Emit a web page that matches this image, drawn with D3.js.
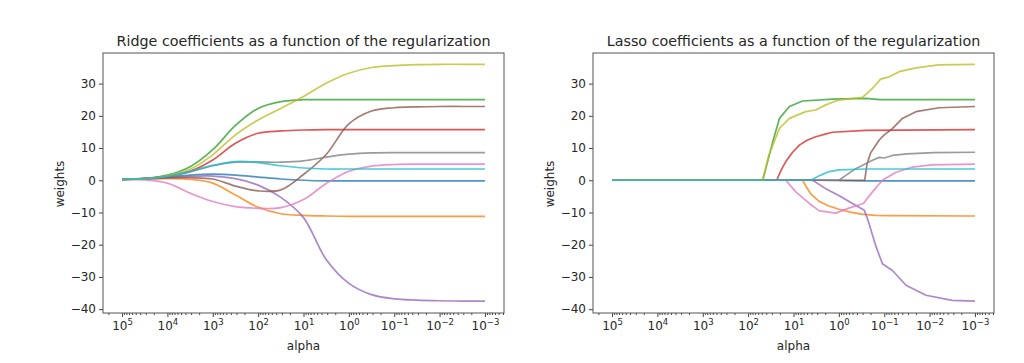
<!DOCTYPE html>
<html>
<head>
<meta charset="utf-8">
<script src="https://cdn.jsdelivr.net/npm/d3@7"></script>
<style>
  body { margin: 0; background: #fff; }
  text { font-family: "DejaVu Sans", sans-serif; fill: #262626; }
</style>
</head>
<body>
<svg id="chart" width="1024" height="363"></svg>
<script>
// ---- data (log10 of alpha, coefficient values) ----
const alphaExps = [5, 4.5, 4, 3.5, 3, 2.5, 2, 1.5, 1, 0.5, 0, -0.5, -1, -1.5, -2, -2.5, -3];

const ridgeBlue   = [0.3, 0.5, 1.0, 1.6, 1.9, 1.6, 1.0, 0.4, 0.0, -0.2, -0.2, -0.2, -0.2, -0.2, -0.2, -0.2, -0.2];
const ridgeOrange = [0.3, 0.4, 0.5, 0.3, -0.9, -4.6, -8.4, -10.4, -10.9, -11.1, -11.2, -11.2, -11.2, -11.2, -11.2, -11.2, -11.2];
const ridgeGreen  = [0.3, 0.6, 1.6, 4.2, 9.5, 17.0, 22.3, 24.4, 25.0, 25.0, 25.0, 25.0, 25.0, 25.0, 25.0, 25.0, 25.0];
const ridgeRed    = [0.3, 0.5, 1.3, 2.8, 6.3, 11.5, 14.6, 15.3, 15.6, 15.7, 15.7, 15.7, 15.7, 15.7, 15.7, 15.7, 15.7];
const ridgePurple = [0.3, 0.4, 0.7, 1.2, 1.3, 0.5, -1.5, -5.3, -11.6, -24.6, -32.0, -35.5, -36.8, -37.2, -37.4, -37.5, -37.5];
const ridgeBrown  = [0.3, 0.5, 0.8, 0.8, 0.4, -1.8, -3.3, -3.0, 1.8, 8.0, 17.5, 21.5, 22.5, 22.8, 22.9, 22.9, 22.9];
const ridgePink   = [0.3, 0.1, -0.9, -4.0, -6.6, -8.2, -8.7, -8.5, -6.0, -1.0, 2.8, 4.4, 4.9, 5.0, 5.0, 5.0, 5.0];
const ridgeGray   = [0.3, 0.5, 1.2, 2.6, 4.5, 5.6, 5.7, 5.6, 6.0, 7.2, 8.1, 8.5, 8.6, 8.6, 8.6, 8.6, 8.6];
const ridgeOlive  = [0.3, 0.5, 1.4, 3.4, 7.9, 14.1, 18.7, 22.3, 26.0, 30.1, 33.2, 35.0, 35.6, 35.9, 36.0, 36.0, 36.0];
const ridgeCyan   = [0.3, 0.5, 1.2, 2.8, 4.6, 5.8, 5.5, 4.5, 3.8, 3.5, 3.5, 3.5, 3.5, 3.5, 3.5, 3.5, 3.5];

// lasso paths: [log10(alpha), coefficient]
const lassoBlue   = [[5, 0], [0.5, 0], [-0.5, -0.2], [-3, -0.2]];
const lassoOrange = [[5, 0], [0.8, 0], [0.72, -2.0], [0.62, -4.2], [0.43, -6.6], [0.22, -8.0], [0, -9.0], [-0.25, -9.9], [-0.5, -10.5], [-0.8, -10.9], [-1.1, -11.0], [-3, -11.1]];
const lassoGreen  = [[5, 0], [1.68, 0], [1.45, 12.3], [1.31, 19.2], [1.09, 22.9], [0.8, 24.6], [0.14, 25.2], [-0.6, 25.4], [-0.9, 25.0], [-3, 25.0]];
const lassoRed    = [[5, 0], [1.37, 0], [1.27, 3.2], [1.17, 5.8], [1.02, 8.7], [0.87, 10.9], [0.7, 12.4], [0.51, 13.5], [0.3, 14.3], [0.14, 14.9], [-0.59, 15.5], [-3, 15.7]];
const lassoPurple = [[5, 0], [0.58, 0], [0.29, -2.6], [0, -4.7], [-0.3, -7.2], [-0.56, -9.3], [-0.63, -11.9], [-0.81, -20.2], [-0.96, -25.9], [-1.18, -28.0], [-1.48, -32.6], [-1.92, -35.7], [-2.5, -37.3], [-3, -37.5]];
const lassoBrown  = [[5, 0], [-0.57, 0], [-0.62, 5.0], [-0.7, 8.5], [-0.89, 12.5], [-1.0, 14.1], [-1.18, 16.0], [-1.4, 19.2], [-1.7, 21.3], [-2.21, 22.5], [-3, 22.9]];
const lassoPink   = [[5, 0], [1.17, 0], [0.95, -3.6], [0.65, -7.2], [0.43, -9.5], [0.07, -10.2], [-0.25, -8.5], [-0.54, -7.2], [-0.74, -3.6], [-0.96, 0], [-1.25, 2.4], [-1.62, 4.1], [-2.05, 4.8], [-3, 5.0]];
const lassoGray   = [[5, 0], [0, 0], [-0.37, 3.6], [-0.74, 6.2], [-0.89, 7.1], [-1.0, 6.9], [-1.18, 7.7], [-1.5, 8.2], [-2.1, 8.6], [-3, 8.7]];
const lassoOlive  = [[5, 0], [1.68, 0], [1.54, 7.9], [1.31, 16.1], [1.09, 19.2], [0.73, 21.3], [0.51, 21.8], [0.29, 23.4], [0, 24.9], [-0.52, 25.7], [-0.74, 28.5], [-0.92, 31.4], [-1.11, 32.1], [-1.33, 33.7], [-1.7, 34.9], [-2.2, 35.8], [-3, 36.0]];
const lassoCyan   = [[5, 0], [0.62, 0], [0.4, 1.6], [0.21, 2.7], [0, 3.2], [-0.6, 3.5], [-3, 3.5]];

const xTickExps = [5, 4, 3, 2, 1, 0, -1, -2, -3];
const yTicks = [30, 20, 10, 0, -10, -20, -30, -40];

// tab10, in plotting order
const colors = ["#1f77b4", "#ff7f0e", "#2ca02c", "#d62728", "#9467bd",
                "#8c564b", "#e377c2", "#7f7f7f", "#bcbd22", "#17becf"];

const ridgeSeries = [ridgeBlue, ridgeOrange, ridgeGreen, ridgeRed, ridgePurple,
                     ridgeBrown, ridgePink, ridgeGray, ridgeOlive, ridgeCyan]
  .map(vals => alphaExps.map((e, i) => [e, vals[i]]));
const lassoSeries = [lassoBlue, lassoOrange, lassoGreen, lassoRed, lassoPurple,
                     lassoBrown, lassoPink, lassoGray, lassoOlive, lassoCyan];

const panels = [
  { title: "Ridge coefficients as a function of the regularization", left: 103, right: 504,
    series: ridgeSeries, curve: d3.curveCatmullRom.alpha(0.5) },
  { title: "Lasso coefficients as a function of the regularization", left: 593, right: 994,
    series: lassoSeries, curve: d3.curveLinear }
];

const plotTop = 53, plotBottom = 313;
const svg = d3.select("#chart");
svg.append("rect").attr("width", 1024).attr("height", 363).attr("fill", "#fff");

const y = d3.scaleLinear().domain([-41.2, 39.5]).range([plotBottom, plotTop]);

const fmtExp = e => String(e).replace("-", "\u2212");

panels.forEach(p => {
  const x = d3.scaleLog().domain([Math.pow(10, 5.42), Math.pow(10, -3.42)]).range([p.left, p.right]);
  const g = svg.append("g");

  // lines
  const line = d3.line()
    .x(d => x(Math.pow(10, d[0])))
    .y(d => y(d[1]))
    .curve(p.curve);

  g.append("g")
    .selectAll("path")
    .data(p.series)
    .join("path")
    .attr("d", line)
    .attr("fill", "none")
    .attr("stroke", (d, i) => colors[i])
    .attr("stroke-opacity", 0.78)
    .attr("stroke-width", 1.7)
    .attr("stroke-linejoin", "round");

  // y axis
  const yAxis = g.append("g")
    .attr("transform", `translate(${p.left},0)`)
    .call(d3.axisLeft(y).tickValues(yTicks).tickSize(4).tickPadding(3)
      .tickFormat(d => String(d).replace("-", "\u2212")));
  yAxis.select(".domain").remove();
  yAxis.selectAll("line").attr("stroke", "#444");
  yAxis.selectAll("text").style("font-size", "12px").attr("fill", "#333");

  // x axis minor ticks
  const minors = [];
  for (let k = -4; k <= 5; k++) {
    for (let m = 2; m <= 9; m++) {
      const v = m * Math.pow(10, k);
      if (v <= Math.pow(10, 5.42) && v >= Math.pow(10, -3.42)) minors.push(v);
    }
  }
  const xMinor = g.append("g")
    .attr("transform", `translate(0,${plotBottom})`)
    .call(d3.axisBottom(x).tickValues(minors).tickSize(2).tickFormat(""));
  xMinor.select(".domain").remove();
  xMinor.selectAll("line").attr("stroke", "#444");

  // x axis major ticks with 10^n labels
  const xAxis = g.append("g")
    .attr("transform", `translate(0,${plotBottom})`)
    .call(d3.axisBottom(x).tickValues(xTickExps.map(e => Math.pow(10, e))).tickSize(4).tickPadding(3)
      .tickFormat(""));
  xAxis.select(".domain").remove();
  xAxis.selectAll("line").attr("stroke", "#444");
  xAxis.selectAll(".tick text").each(function(d) {
    const e = Math.round(Math.log10(d));
    const t = d3.select(this).attr("y", 17).attr("dy", null).style("font-size", "12px").attr("fill", "#333");
    t.append("tspan").text("10");
    t.append("tspan").attr("dy", -5).style("font-size", "8.5px").text(fmtExp(e));
  });

  // frame
  g.append("rect")
    .attr("x", p.left).attr("y", plotTop)
    .attr("width", p.right - p.left).attr("height", plotBottom - plotTop)
    .attr("fill", "none").attr("stroke", "#555").attr("stroke-width", 1);

  // labels
  const cx = (p.left + p.right) / 2;
  g.append("text")
    .attr("x", cx).attr("y", 46)
    .attr("text-anchor", "middle")
    .style("font-size", "14.3px")
    .text(p.title);

  g.append("text")
    .attr("x", cx).attr("y", 350)
    .attr("text-anchor", "middle")
    .style("font-size", "12px")
    .text("alpha");

  g.append("text")
    .attr("transform", `translate(${p.left - 39},${(plotTop + plotBottom) / 2 + 1}) rotate(-90)`)
    .attr("text-anchor", "middle")
    .style("font-size", "12px")
    .text("weights");
});
</script>
</body>
</html>
